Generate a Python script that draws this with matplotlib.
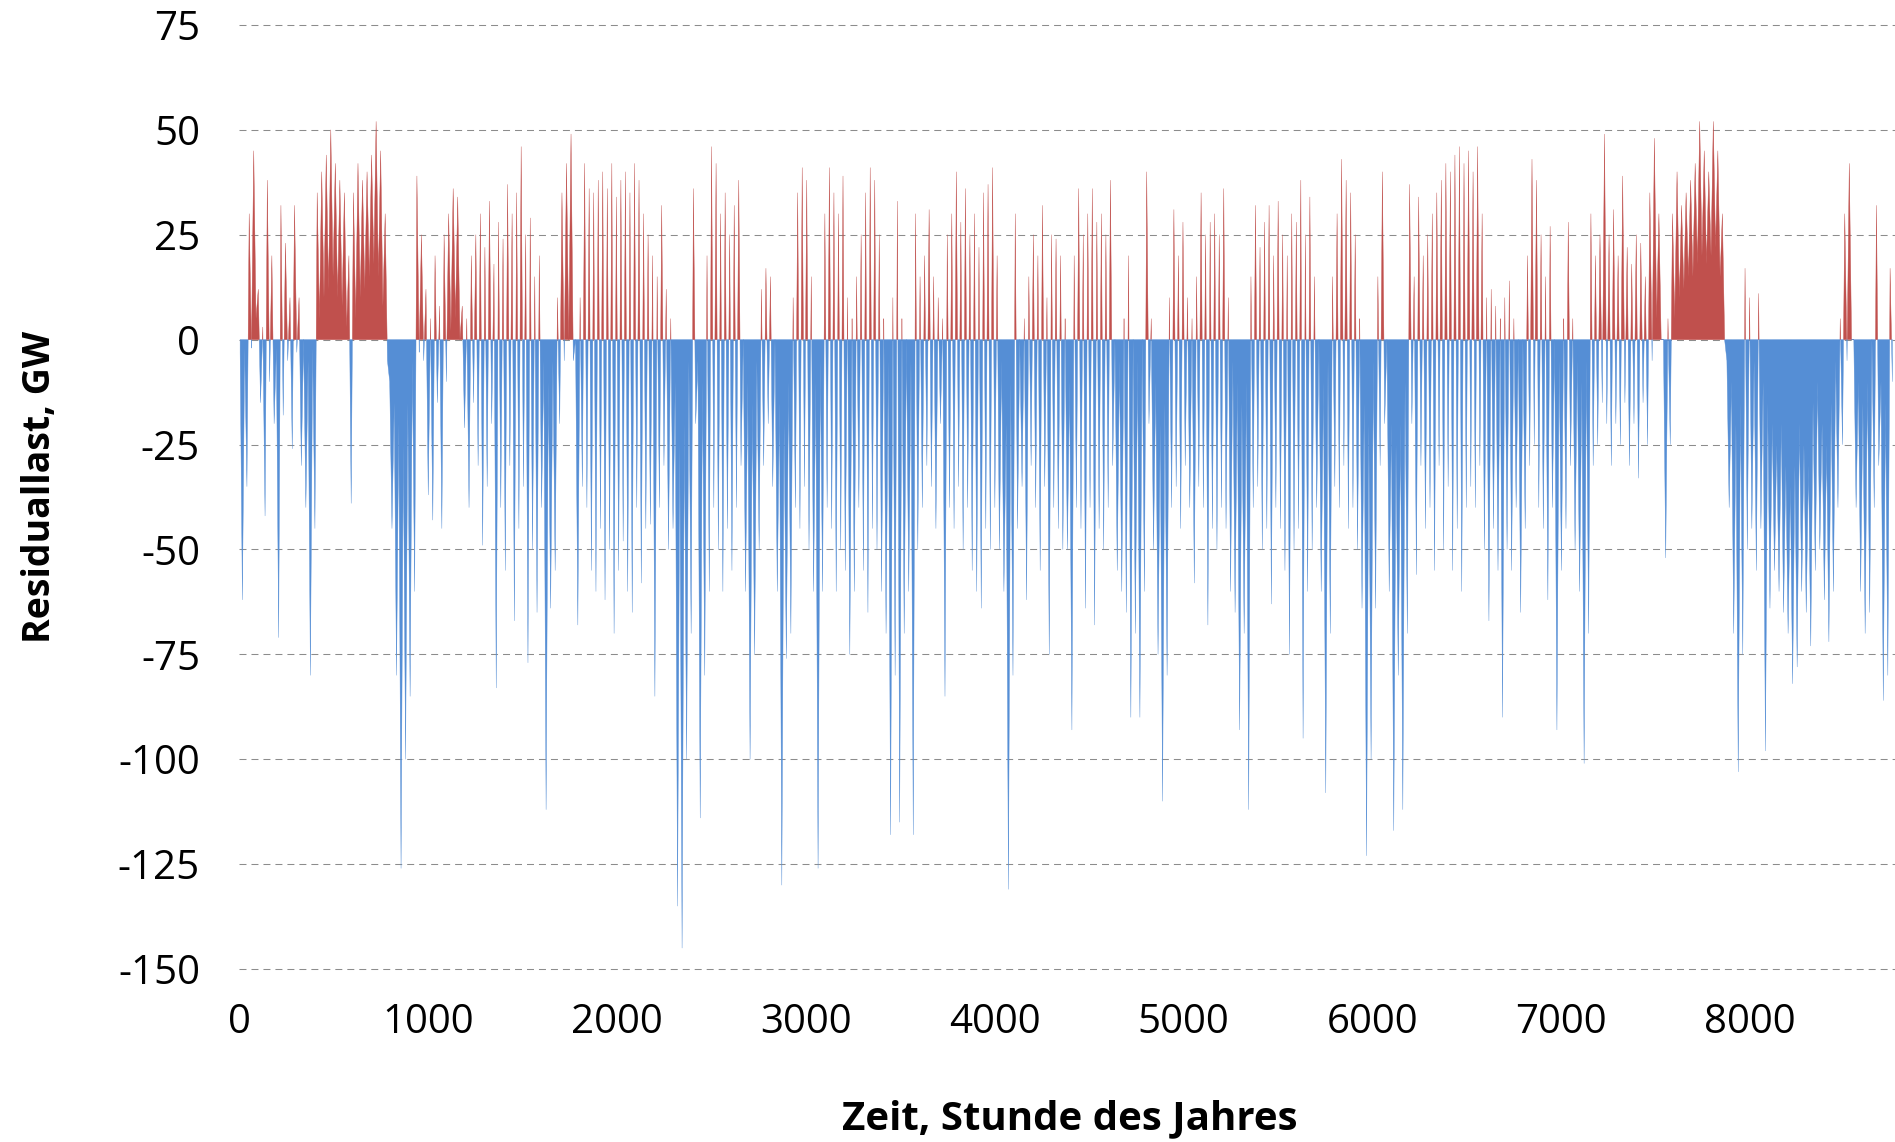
"""Residual load over the hours of one year, red above zero, blue below."""

import matplotlib
import matplotlib.pyplot
import numpy

matplotlib.use('Agg')

# Daily extremes of the residual load in GW, one entry per day of the year,
# read off the chart.
DAILY_MAX = [
    -3, -2, 30, 45, 12, 3, 38, 20, -2, 32,
    23, 10, 32, 10, 0, -5, -2, 35, 40, 44,
    50, 42, 38, 35, 20, 35, 42, 38, 40, 44,
    52, 45, 30, -10, -15, -20, -25, -15, -5, 39,
    25, 12, 5, 20, 8, 25, 30, 36, 34, 8,
    5, 20, 25, 30, 22, 33, 18, 28, 24, 37,
    30, 35, 46, 25, 29, 15, 20, -5, -10, -5,
    10, 35, 42, 49, 0, 10, 42, 36, 35, 38,
    40, 36, 42, 34, 38, 40, 35, 42, 38, 30,
    25, 20, 15, 32, 12, 5, -10, -25, -20, -5,
    36, -5, -10, 20, 46, 42, 30, 35, 25, 32,
    38, 0, -10, -15, -5, 12, 17, 15, 0, -15,
    -20, -10, 10, 35, 41, 38, 15, -10, -5, 30,
    41, 35, 30, 39, 10, 5, 15, 25, 35, 41,
    38, 25, 5, -5, 10, 33, 5, 0, -5, 30,
    15, 20, 31, 15, 10, 5, 25, 30, 40, 28,
    36, 25, 30, 22, 35, 37, 41, 20, -5, -20,
    -10, 30, 0, 5, 15, 25, 20, 32, 10, 25,
    24, 20, 5, -10, 20, 36, 25, 30, 36, 28,
    30, 25, 38, 0, -5, 5, 20, 0, -5, 0,
    40, 5, -10, -20, -15, 10, 31, 20, 28, 10,
    5, 15, 35, 25, 28, 30, 25, 36, 10, -5,
    -10, -15, -10, 15, 32, 22, 28, 32, 20, 33,
    25, 20, 30, 28, 38, 25, 34, 15, 0, -10,
    -5, 15, 30, 43, 38, 35, 25, 5, -15, -20,
    -5, 15, 40, 0, -20, -25, -20, -10, 37, 15,
    34, 20, 25, 30, 35, 38, 42, 40, 44, 46,
    42, 45, 40, 46, 30, 10, 12, 8, 5, 10,
    14, 5, 0, 0, 20, 43, 38, 25, 15, 27,
    0, -5, 5, 28, 5, -5, -10, -5, 30, 20,
    25, 49, 25, 31, 20, 39, 22, 18, 25, 23,
    15, 35, 48, 30, 0, 5, 30, 40, 32, 35,
    38, 42, 52, 45, 40, 52, 45, 30, -5, -10,
    -20, -15, 17, 10, -5, 11, -10, -15, -20, -25,
    -20, -30, -35, -30, -20, -25, -30, -15, -10, -20,
    -25, -15, -5, 5, 30, 42, 0, -10, -15, -10,
    0, 32, -10, -15, 17,
]
DAILY_MIN = [
    -62, -35, -2, 5, -15, -42, -10, -20, -71, -18,
    -5, -26, -3, -30, -40, -80, -45, 5, 10, 12,
    15, 10, 8, 3, -39, 5, 10, 12, 15, 18,
    15, 8, -5, -45, -80, -126, -100, -85, -60, -3,
    -5, -37, -43, -15, -45, -10, 2, 5, 0, -21,
    -40, -15, -30, -49, -35, -20, -83, -40, -55, -30,
    -67, -45, -35, -77, -50, -65, -40, -112, -64, -55,
    -20, -5, 0, -5, -68, -35, -40, -55, -60, -45,
    -62, -50, -70, -55, -48, -60, -65, -40, -58, -45,
    -44, -85, -40, -30, -50, -45, -135, -145, -100, -70,
    -20, -114, -80, -60, -40, -50, -60, -45, -55, -40,
    -30, -60, -100, -75, -50, -30, -20, -35, -60, -130,
    -76, -70, -40, -45, -35, -50, -60, -126, -60, -40,
    -45, -60, -50, -55, -75, -60, -40, -55, -65, -45,
    -50, -60, -70, -118, -80, -115, -70, -60, -118, -50,
    -40, -30, -35, -45, -20, -85, -40, -45, -35, -50,
    -40, -55, -60, -64, -45, -50, -40, -50, -60, -131,
    -80, -45, -35, -62, -30, -40, -55, -35, -75, -40,
    -45, -50, -50, -93, -40, -45, -64, -40, -68, -45,
    -50, -40, -30, -55, -60, -65, -90, -70, -90, -60,
    -20, -50, -75, -110, -80, -40, -35, -45, -30, -40,
    -58, -35, -40, -68, -45, -50, -40, -45, -60, -65,
    -93, -70, -112, -40, -35, -50, -45, -63, -40, -45,
    -55, -75, -50, -45, -95, -60, -50, -40, -60, -108,
    -70, -35, -40, -30, -45, -40, -50, -64, -123, -100,
    -64, -30, -20, -60, -117, -80, -112, -70, -20, -56,
    -30, -45, -40, -55, -30, -50, -35, -55, -45, -60,
    -40, -35, -40, -30, -50, -67, -45, -55, -90, -50,
    -55, -40, -65, -45, -30, -25, -40, -45, -62, -40,
    -93, -55, -45, -30, -50, -60, -101, -70, -30, -25,
    -15, -20, -30, -20, -25, -15, -30, -20, -33, -15,
    -25, -5, 5, 0, -52, -25, 5, 10, 12, 15,
    15, 18, 20, 18, 20, 22, 15, 0, -40, -70,
    -103, -75, -50, -45, -55, -45, -98, -64, -55, -60,
    -65, -70, -82, -78, -60, -65, -73, -55, -50, -62,
    -72, -60, -40, -25, -5, 0, -40, -60, -70, -65,
    -40, -30, -86, -80, -10,
]
Y_TICKS = [75, 50, 25, 0, -25, -50, -75, -100, -125, -150]
X_TICKS = [0, 1000, 2000, 3000, 4000, 5000, 6000, 7000, 8000]
X_LABEL = 'Zeit, Stunde des Jahres'
Y_LABEL = 'Residuallast, GW'

RED = '#C0504D'
BLUE = '#558ED5'
FONT = ['Open Sans', 'DejaVu Sans']

assert len(DAILY_MAX) == len(DAILY_MIN) == 365


def _hourly_series():
    # The daily maximum goes at 06:00, the minimum at 18:00 of each day.
    days = numpy.arange(len(DAILY_MAX))
    hours = numpy.column_stack([days * 24 + 6, days * 24 + 18]).ravel()
    values = numpy.column_stack([DAILY_MAX, DAILY_MIN]).ravel()
    return hours, values.astype(float)


def main():
    matplotlib.rcParams['font.family'] = FONT
    matplotlib.rcParams['axes.unicode_minus'] = False

    figure = matplotlib.pyplot.figure(figsize=(18.95, 11.42), dpi=100)
    axes = figure.add_axes([239 / 1895, 1 - 969 / 1142, 1 - 239 / 1895,
                            (969 - 25) / 1142])

    hours, values = _hourly_series()
    axes.fill_between(hours, values, 0, where=values >= 0, interpolate=True,
                      color=RED, lw=0.3, zorder=2)
    axes.fill_between(hours, values, 0, where=values <= 0, interpolate=True,
                      color=BLUE, lw=0.3, zorder=2)

    axes.set_xlim(0, 8768)
    axes.set_ylim(-150, 75)
    axes.set_xticks(X_TICKS)
    axes.set_yticks(Y_TICKS)
    axes.tick_params(length=0, labelsize=29, colors='black')
    axes.tick_params(axis='y', pad=28)
    axes.tick_params(axis='x', pad=24)
    for spine in axes.spines.values():
        spine.set_visible(False)

    axes.set_axisbelow(True)
    axes.grid(axis='y', color='#8c8c8c', lw=0.75, ls=(0, (6.7, 4.8)))
    for line in axes.get_ygridlines():
        line.set_clip_on(False)

    figure.text(1070 / 1895, 1 - 1119 / 1142, X_LABEL, ha='center',
                va='center', fontsize=29, fontweight='bold')
    figure.text(40 / 1895, 1 - 487 / 1142, Y_LABEL, ha='center',
                va='center', rotation=90, fontsize=27, fontweight='bold')

    figure.savefig('out.png', dpi=100)
    matplotlib.pyplot.close(figure)


if __name__ == '__main__':
    main()
